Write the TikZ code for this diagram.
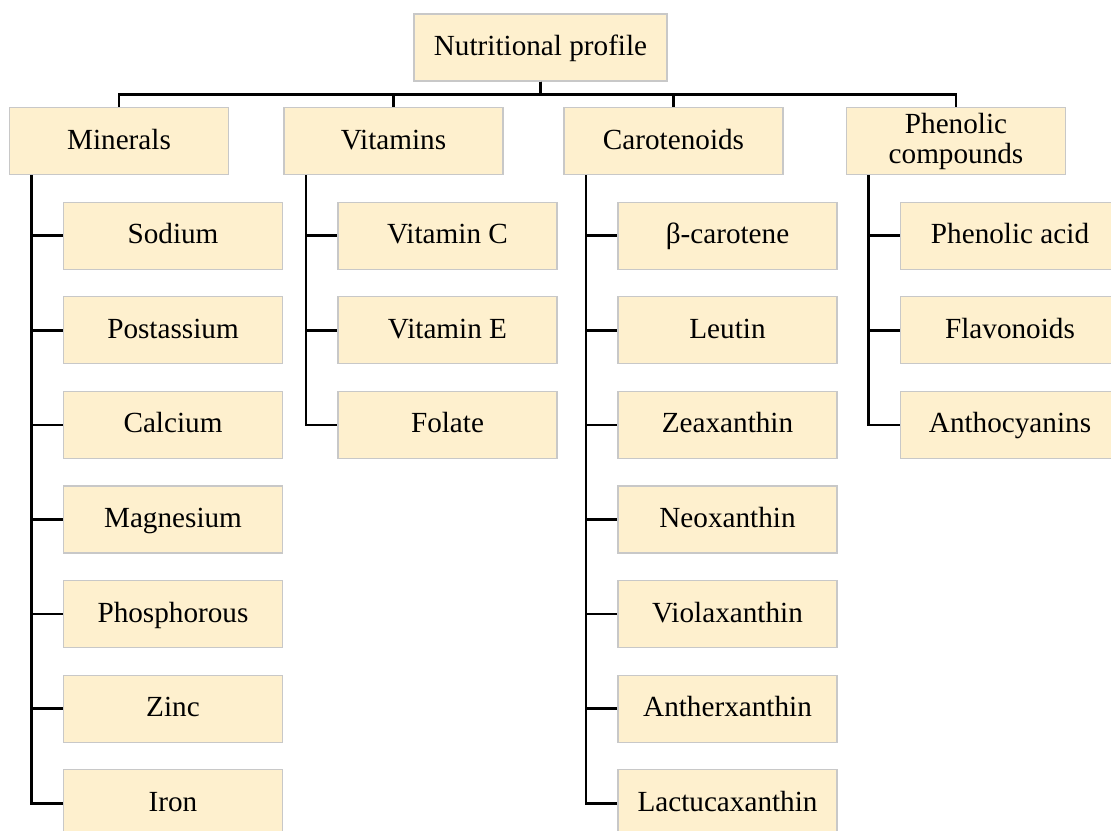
\documentclass[tikz,border=0pt]{standalone}
\usepackage{fontspec}
\setmainfont{Liberation Serif}
\definecolor{boxfill}{RGB}{254,240,206}
\definecolor{boxline}{RGB}{200,200,200}

\tikzstyle{item}=[draw=boxline,fill=boxfill,line width=0.6pt,minimum width=109.5pt,minimum height=33.5pt,inner sep=2pt,align=center,font=\fontsize{14.6}{15}\selectfont]
\tikzstyle{word}=[text height=11pt,text depth=3pt]
\newcommand{\group}[4]{\node[item,#4] (#1) at (#2) {#3};}
\newcommand{\member}[3]{\node[item,word,below of=#3] (#1) {#2};}
\newcommand{\branch}[2]{\draw (#1) |- (#2.west);}

\begin{document}
\begin{tikzpicture}[x=0.5pt,y=-0.5pt,node distance=47.3pt,line width=1.3pt]
    \useasboundingbox (0,0) rectangle (1111,830);
    \clip (0,0) rectangle (1111,830);
    % root and the four groups
    \group{root}{540.5,47.5}{Nutritional profile}{word,minimum width=126.5pt}
    \group{minerals}{119,141}{Minerals}{word}
    \group{vitamins}{393.5,141}{Vitamins}{word}
    \group{carotenoids}{673.5,141}{Carotenoids}{word}
    \group{phenolic}{956,141}{Phenolic\\compounds}{}

    % minerals
    \member{sodium}{Sodium}{minerals,xshift=27pt}
    \member{potassium}{Postassium}{sodium}
    \member{calcium}{Calcium}{potassium}
    \member{magnesium}{Magnesium}{calcium}
    \member{phosphorous}{Phosphorous}{magnesium}
    \member{zinc}{Zinc}{phosphorous}
    \member{iron}{Iron}{zinc}

    % vitamins
    \member{vitc}{Vitamin C}{vitamins,xshift=27pt}
    \member{vite}{Vitamin E}{vitc}
    \member{folate}{Folate}{vite}

    % carotenoids
    \member{betacar}{β-carotene}{carotenoids,xshift=27pt}
    \member{leutin}{Leutin}{betacar}
    \member{zeaxanthin}{Zeaxanthin}{leutin}
    \member{neoxanthin}{Neoxanthin}{zeaxanthin}
    \member{violaxanthin}{Violaxanthin}{neoxanthin}
    \member{antherxanthin}{Antherxanthin}{violaxanthin}
    \member{lactucaxanthin}{Lactucaxanthin}{antherxanthin}

    % phenolic compounds
    \member{phenacid}{Phenolic acid}{phenolic,xshift=27pt}
    \member{flavonoids}{Flavonoids}{phenacid}
    \member{anthocyanins}{Anthocyanins}{flavonoids}

    % connectors
    \foreach \p in {minerals,vitamins,carotenoids,phenolic}
        \draw (root.south) -- ++(0,13) -| (\p.north);

    \coordinate (mspine) at ([xshift=11.25pt]minerals.south west);
    \coordinate (vspine) at ([xshift=11.25pt]vitamins.south west);
    \coordinate (cspine) at ([xshift=11.25pt]carotenoids.south west);
    \coordinate (pspine) at ([xshift=11.25pt]phenolic.south west);

    \foreach \c in {sodium,potassium,calcium,magnesium,phosphorous,zinc,iron}
        {\branch{mspine}{\c}}
    \foreach \c in {vitc,vite,folate}
        {\branch{vspine}{\c}}
    \foreach \c in {betacar,leutin,zeaxanthin,neoxanthin,violaxanthin,antherxanthin,lactucaxanthin}
        {\branch{cspine}{\c}}
    \foreach \c in {phenacid,flavonoids,anthocyanins}
        {\branch{pspine}{\c}}
\end{tikzpicture}
\end{document}
